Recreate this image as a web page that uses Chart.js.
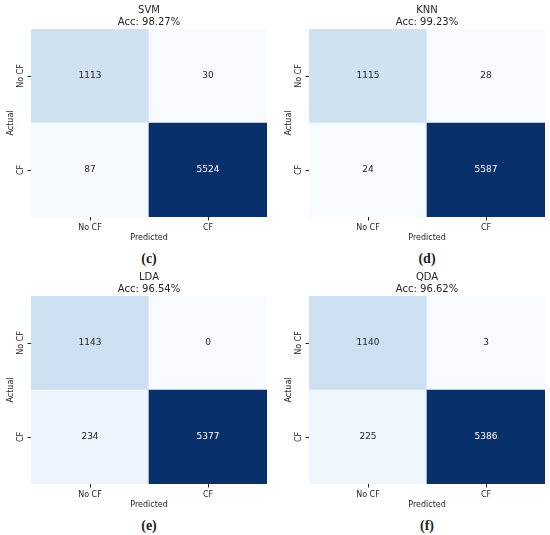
<!DOCTYPE html>
<html>
<head>
<meta charset="utf-8">
<script src="https://cdn.jsdelivr.net/npm/chart.js@4.4.0/dist/chart.umd.min.js"></script>
<style>
  body { margin: 0; background: #fff; }
  #wrap { position: relative; width: 550px; height: 535px; overflow: hidden; }
  .panel { position: absolute; width: 275px; height: 246px; }
  .caption {
    position: absolute; width: 60px; text-align: center;
    font: bold 14px "Liberation Serif", "DejaVu Serif", serif; color: #222;
    line-height: 16px;
  }
</style>
</head>
<body>
<div id="wrap"></div>
<script>
const models = ["SVM", "KNN", "LDA", "QDA"];
const accuracies = ["98.27%", "99.23%", "96.54%", "96.62%"];
const captions = ["(c)", "(d)", "(e)", "(f)"];
const predictedLabels = ["No CF", "CF"];
const actualLabels = ["No CF", "CF"];

// rows = actual (No CF, CF), cols = predicted (No CF, CF)
const svmMatrix = [[1113, 30], [87, 5524]];
const knnMatrix = [[1115, 28], [24, 5587]];
const ldaMatrix = [[1143, 0], [234, 5377]];
const qdaMatrix = [[1140, 3], [225, 5386]];
const matrices = [svmMatrix, knnMatrix, ldaMatrix, qdaMatrix];

const TEXT = "#262626";
const FONT = "DejaVu Sans";

// matplotlib "Blues"
const BLUES = [
  [247, 251, 255], [222, 235, 247], [198, 219, 239], [158, 202, 225],
  [107, 174, 214], [66, 146, 198], [33, 113, 181], [8, 81, 156], [8, 48, 107]
];

function blues(t) {
  t = Math.max(0, Math.min(1, t));
  const p = t * (BLUES.length - 1);
  const i = Math.min(Math.floor(p), BLUES.length - 2);
  const f = p - i;
  return BLUES[i].map((c, k) => Math.round(c + (BLUES[i + 1][k] - c) * f));
}

function luminance(rgb) {
  const lin = rgb.map((c) => {
    c = c / 255;
    return c <= 0.03928 ? c / 12.92 : Math.pow((c + 0.055) / 1.055, 2.4);
  });
  return 0.2126 * lin[0] + 0.7152 * lin[1] + 0.0722 * lin[2];
}

const annotate = {
  id: "annotate",
  afterDatasetsDraw(chart) {
    const ctx = chart.ctx;
    ctx.save();
    ctx.font = "9px " + FONT;
    ctx.textAlign = "center";
    ctx.textBaseline = "middle";
    chart.data.datasets.forEach((ds, di) => {
      const meta = chart.getDatasetMeta(di);
      meta.data.forEach((bar, i) => {
        const rgb = ds.cellRgb[i];
        ctx.fillStyle = luminance(rgb) > 0.408 ? TEXT : "#ffffff";
        ctx.fillText(String(ds.cellValues[i]), bar.x, (bar.y + bar.base) / 2);
      });
    });
    ctx.restore();
  }
};

const wrap = document.getElementById("wrap");

models.forEach((name, p) => {
  const m = matrices[p];
  const flat = m.flat();
  const lo = Math.min(...flat), hi = Math.max(...flat);
  const rowColors = m.map((row) => row.map((v) => blues((v - lo) / (hi - lo))));

  const left = (p % 2) * 278;
  const top = Math.floor(p / 2) * 267;

  const div = document.createElement("div");
  div.className = "panel";
  div.style.left = left + "px";
  div.style.top = top + "px";
  const canvas = document.createElement("canvas");
  canvas.width = 275;
  canvas.height = 246;
  div.appendChild(canvas);
  wrap.appendChild(div);

  const cap = document.createElement("div");
  cap.className = "caption";
  cap.textContent = captions[p];
  cap.style.left = (left + 149 - 30) + "px";
  cap.style.top = (top + 251) + "px";
  wrap.appendChild(cap);

  // stacked bars: bottom dataset = actual CF row, top = actual No CF row
  const datasets = [1, 0].map((r) => ({
    data: [1, 1],
    cellValues: m[r],
    cellRgb: rowColors[r],
    backgroundColor: rowColors[r].map((c) => `rgb(${c[0]},${c[1]},${c[2]})`),
    borderWidth: 0,
    barPercentage: 1,
    categoryPercentage: 1
  }));

  new Chart(canvas, {
    type: "bar",
    data: { labels: predictedLabels, datasets: datasets },
    plugins: [annotate],
    options: {
      responsive: false,
      animation: false,
      layout: { padding: { right: 8 } },
      plugins: {
        legend: { display: false },
        tooltip: { enabled: false },
        title: {
          display: true,
          fullSize: false,
          text: [name, "Acc: " + accuracies[p]],
          color: TEXT,
          font: { family: FONT, size: 10, weight: "normal", lineHeight: 1.15 },
          padding: { top: 5, bottom: 1 }
        }
      },
      scales: {
        x: {
          stacked: true,
          grid: {
            display: true, drawOnChartArea: false, drawTicks: true,
            tickLength: 3.5, offset: false, color: TEXT, lineWidth: 1
          },
          border: { display: false },
          ticks: { color: TEXT, font: { family: FONT, size: 8 }, padding: 2.5, maxRotation: 0 },
          title: {
            display: true, text: "Predicted", color: TEXT,
            font: { family: FONT, size: 8 }, padding: { top: 0, bottom: 3 }
          },
          afterFit(scale) { scale.height = 29; }
        },
        y: {
          stacked: true,
          min: 0,
          max: 2,
          grid: {
            display: true, drawOnChartArea: false, drawTicks: true,
            tickLength: 3.5, color: TEXT, lineWidth: 1
          },
          border: { display: false },
          afterBuildTicks(scale) {
            scale.ticks = [{ value: 0.5 }, { value: 1.5 }];
          },
          ticks: {
            color: TEXT,
            font: { family: FONT, size: 8 },
            minRotation: 90,
            maxRotation: 90,
            crossAlign: "center",
            padding: -5.5,
            callback: (v) => (v > 1 ? actualLabels[0] : actualLabels[1])
          },
          title: {
            display: true, text: "Actual", color: TEXT,
            font: { family: FONT, size: 8 }, padding: { top: 6, bottom: 0 }
          },
          afterFit(scale) { scale.width = 31; }
        }
      }
    }
  });
});
</script>
</body>
</html>
